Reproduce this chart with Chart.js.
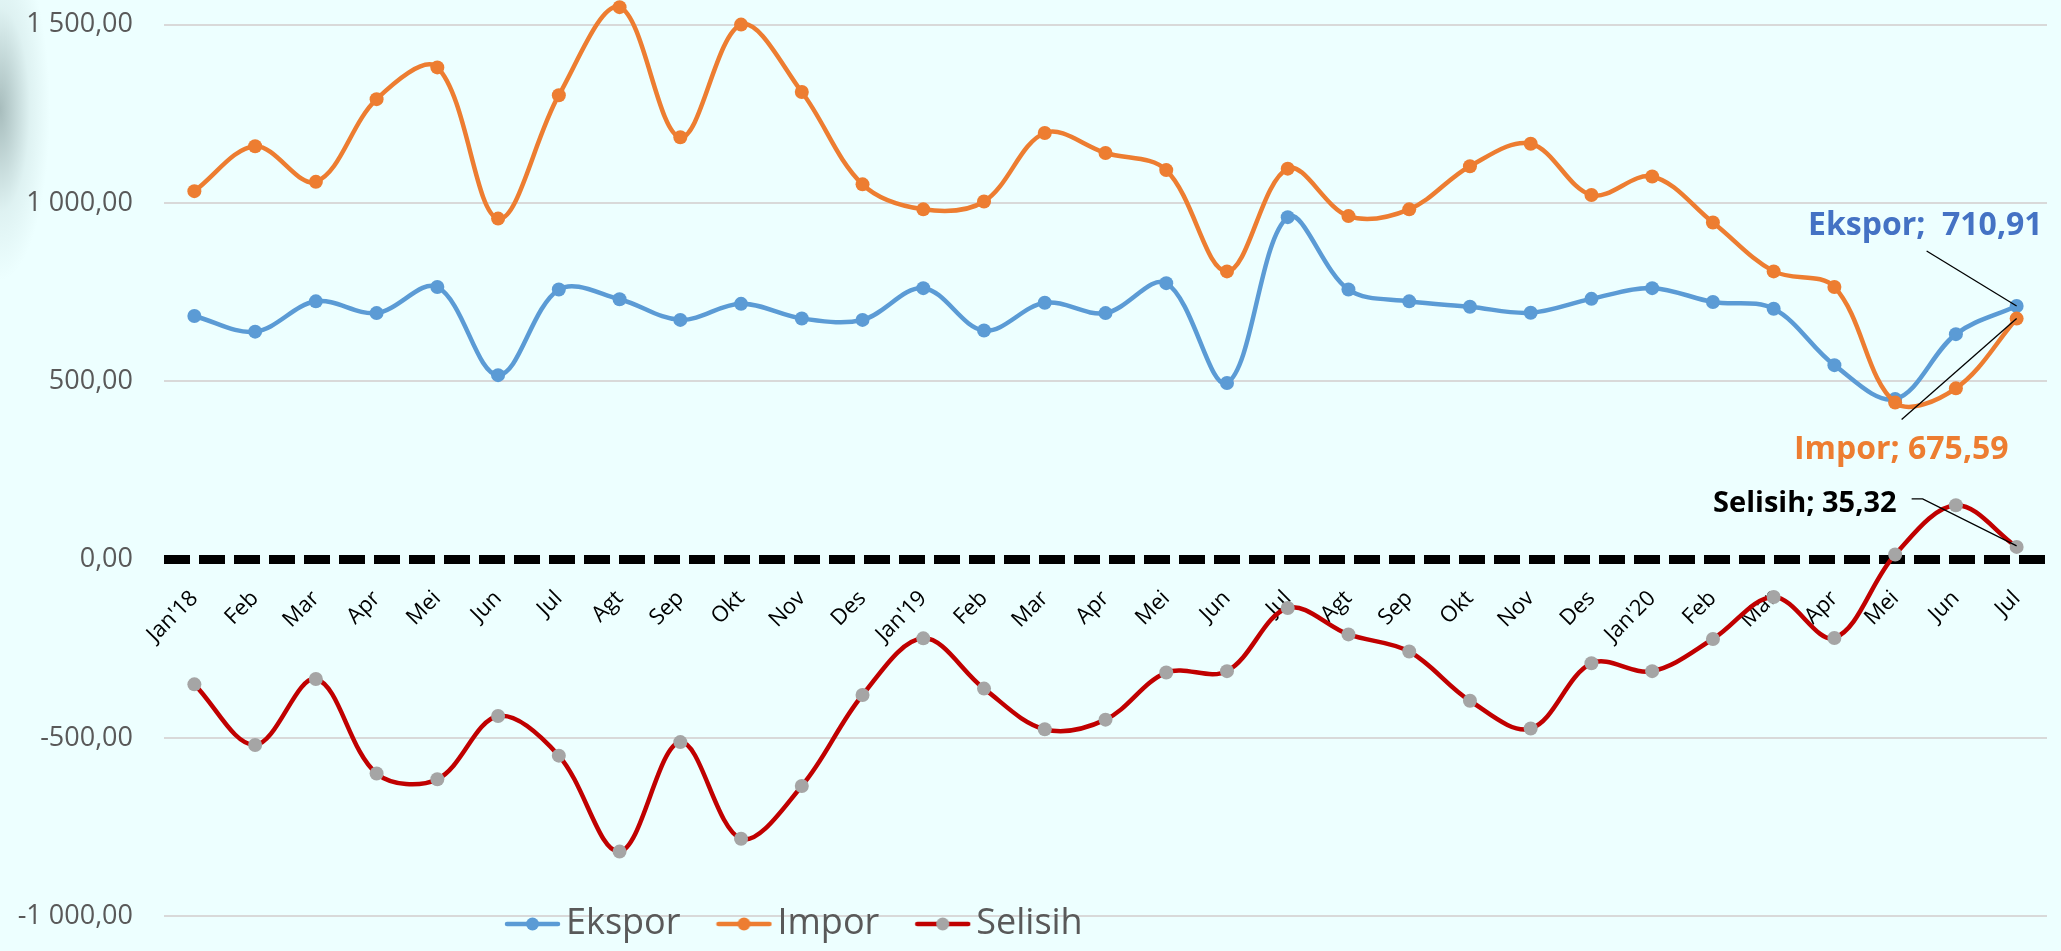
<!DOCTYPE html>
<html><head><meta charset="utf-8">
<script src="https://cdn.jsdelivr.net/npm/chart.js@4.4.1/dist/chart.umd.min.js"></script>
<style>
html,body{margin:0;padding:0;background:#EDFFFF;overflow:hidden;}
#wrap{position:relative;width:2061px;height:951px;}
#shade{position:absolute;left:0;top:0;width:80px;height:320px;background:radial-gradient(ellipse 50px 170px at 0px 110px, rgba(150,172,172,0.8), rgba(200,222,222,0.4) 60%, rgba(237,255,255,0) 100%);}
canvas{position:absolute;left:0;top:0;}
</style></head><body>
<div id="wrap"><div id="shade"></div><canvas id="c" width="2061" height="951"></canvas></div>
<script>
const months = ["Jan'18","Feb","Mar","Apr","Mei","Jun","Jul","Agt","Sep","Okt","Nov","Des",
  "Jan'19","Feb","Mar","Apr","Mei","Jun","Jul","Agt","Sep","Okt","Nov","Des",
  "Jan'20","Feb","Mar","Apr","Mei","Jun","Jul"];
const ekspor = [683, 639, 724, 691, 764, 517, 757, 730, 672, 717, 676, 672,
  761, 642, 720, 691, 775, 495, 960, 757, 724, 709, 692, 731,
  761, 722, 703, 545, 450, 632, 710.91];
const impor = [1033, 1159, 1059, 1291, 1380, 956, 1302, 1549, 1184, 1500, 1311, 1052,
  982, 1004, 1196, 1140, 1092, 808, 1096, 963, 982, 1103, 1166, 1022,
  1074, 945, 808, 764, 440, 480, 675.59];
const selisih = [-350, -520, -335, -600, -616, -439, -550, -819, -512, -783, -635, -380,
  -221, -362, -476, -449, -317, -313, -136, -210, -258, -396, -474, -291,
  -313, -223, -105, -220, 14, 152, 35.32];
const yTicks = [-1000, -500, 0, 500, 1000, 1500];
const seriesNames = ["Ekspor", "Impor", "Selisih"];

function fmtNum(v){
  const neg = v < 0;
  let [i, d] = Math.abs(v).toFixed(2).split('.');
  i = i.replace(/\B(?=(\d{3})+(?!\d))/g, ' ');
  return (neg ? '-' : '') + i + ',' + d;
}
function legendImg(line, dot){
  const c = document.createElement('canvas'); c.width = 57; c.height = 16;
  const g = c.getContext('2d');
  g.strokeStyle = line; g.lineWidth = 4.5; g.lineCap = 'round';
  g.beginPath(); g.moveTo(3, 8); g.lineTo(54, 8); g.stroke();
  g.fillStyle = dot; g.beginPath(); g.arc(28.5, 8, 6.5, 0, Math.PI * 2); g.fill();
  return c;
}
const legendImgs = [legendImg('#5B9BD5', '#5B9BD5'), legendImg('#ED7D31', '#ED7D31'), legendImg('#C00000', '#A5A5A5')];

const callouts = {
  id: 'callouts',
  afterLayout(chart){
    const lg = chart.legend;
    if (!lg) return;
    lg.top = 858; lg.bottom = 951; lg.height = lg.bottom - lg.top;
    lg.left = 469; lg.right = 2061; lg.width = lg.right - lg.left;
  },
  afterDatasetsDraw(chart){
    const ctx = chart.ctx;
    const last = months.length - 1;
    const specs = [
      {ds: 0, text: seriesNames[0] + ';  ' + fmtNum(ekspor[last]), color: '#4472C4', font: 32, tx: 26, ty: -71, line: [[-90, -55], [0, 0]]},
      {ds: 1, text: seriesNames[1] + '; ' + fmtNum(impor[last]), color: '#ED7D31', font: 32, tx: -8, ty: 140, line: [[-115, 101], [0, 0]]},
      {ds: 2, text: seriesNames[2] + '; ' + fmtNum(selisih[last]), color: '#000000', font: 29, tx: -120, ty: -35, line: [[-105, -48], [-94, -48], [0, -1]]}
    ];
    ctx.save();
    specs.forEach(s => {
      const pt = chart.getDatasetMeta(s.ds).data[last];
      ctx.strokeStyle = '#000'; ctx.lineWidth = 1.3;
      ctx.beginPath();
      s.line.forEach((p, k) => { if (k === 0) ctx.moveTo(pt.x + p[0], pt.y + p[1]); else ctx.lineTo(pt.x + p[0], pt.y + p[1]); });
      ctx.stroke();
      ctx.font = 'bold ' + s.font + 'px "Open Sans"';
      ctx.fillStyle = s.color; ctx.textAlign = 'right'; ctx.textBaseline = 'alphabetic';
      ctx.fillText(s.text, pt.x + s.tx, pt.y + s.ty);
    });
    ctx.restore();
  }
};

const mk = (label, data, line, dot, order) => ({
  label, data, borderColor: line, backgroundColor: dot,
  pointBackgroundColor: dot, pointBorderColor: dot, pointBorderWidth: 0,
  pointRadius: 7, borderWidth: 4.5, tension: 0.35, order
});

new Chart(document.getElementById('c'), {
  type: 'line',
  data: {
    labels: months,
    datasets: [
      mk(seriesNames[0], ekspor, '#5B9BD5', '#5B9BD5', 3),
      mk(seriesNames[1], impor, '#ED7D31', '#ED7D31', 2),
      mk(seriesNames[2], selisih, '#C00000', '#A5A5A5', 1)
    ]
  },
  options: {
    responsive: false, devicePixelRatio: 1, animation: false, events: [],
    layout: {padding: {left: 0, right: 14, top: 0, bottom: 0}, autoPadding: false},
    scales: {
      y: {
        min: -1095, max: 1569,
        afterBuildTicks: s => { s.ticks = yTicks.map(v => ({value: v})); },
        afterFit: s => { s.width = 164; s.paddingTop = 0; s.paddingBottom = 0; },
        grid: {
          drawTicks: false,
          color: c => (c.tick && c.tick.value === 0) ? '#000000' : '#D9D9D9',
          lineWidth: c => (c.tick && c.tick.value === 0) ? 9 : 2
        },
        border: {display: false, dash: c => (c.tick && c.tick.value === 0) ? [26, 9] : []},
        ticks: {padding: 31, color: '#595959', font: {family: 'Open Sans', size: 27}, callback: v => fmtNum(v)}
      },
      x: {
        type: 'category', offset: true, position: {y: 0},
        grid: {display: false}, border: {display: false},
        ticks: {autoSkip: false, minRotation: 45, maxRotation: 45, padding: 18, color: '#000000', font: {family: 'Open Sans', size: 22}}
      }
    },
    plugins: {
      tooltip: {enabled: false},
      legend: {
        position: 'bottom', align: 'start', maxHeight: 1,
        labels: {
          usePointStyle: true, pointStyleWidth: 31, padding: 48, color: '#595959',
          font: {family: 'Open Sans', size: 36, lineHeight: 1},
          generateLabels: chart => chart.data.datasets.map((d, i) => ({
            text: d.label, pointStyle: legendImgs[i], datasetIndex: i,
            fillStyle: 'rgba(0,0,0,0)', strokeStyle: 'rgba(0,0,0,0)', lineWidth: 0, hidden: false, fontColor: '#595959'
          }))
        }
      }
    }
  },
  plugins: [callouts]
});
</script>
</body></html>
